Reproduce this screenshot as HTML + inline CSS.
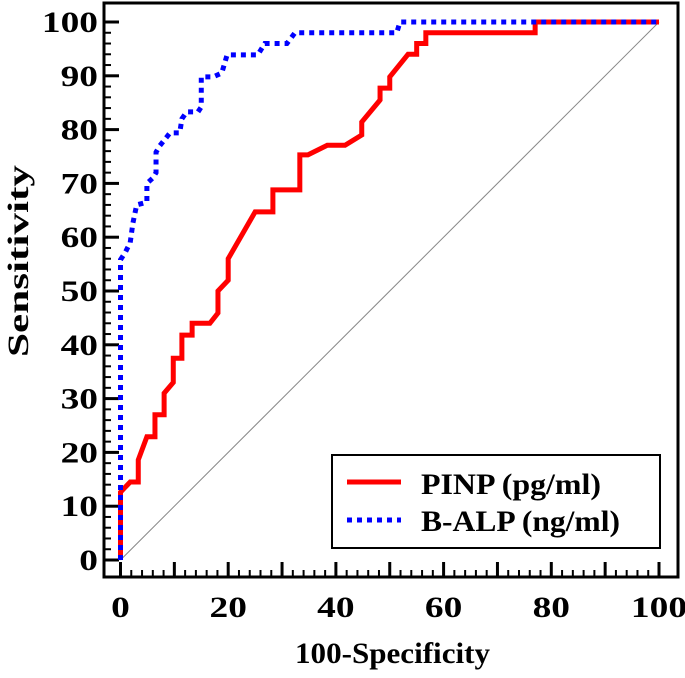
<!DOCTYPE html>
<html><head><meta charset="utf-8"><style>
body{margin:0;background:#fff}
svg text{font-family:"Liberation Serif",serif;font-weight:bold;fill:#000}
</style></head><body>
<svg width="685" height="673" viewBox="0 0 685 673" xmlns="http://www.w3.org/2000/svg">
<g id="ticks"></g>
<g id="labels"></g>
<line id="diag" stroke="#888" stroke-width="1"/>
<polyline id="pinp" fill="none" stroke="#ff0000" stroke-width="5" stroke-linejoin="miter"/>
<polyline id="balp" fill="none" stroke="#0000ff" stroke-width="5" stroke-dasharray="5,5"/>
<rect x="104" y="3" width="574" height="574" fill="none" stroke="#000" stroke-width="3"/>
<g>
<rect x="332" y="455" width="328" height="93" fill="#fff" stroke="#000" stroke-width="2"/>
<line x1="347" y1="482" x2="401" y2="482" stroke="#ff0000" stroke-width="5"/>
<text x="421" y="494" font-size="30" textLength="180" lengthAdjust="spacingAndGlyphs">PINP (pg/ml)</text>
<line x1="347" y1="520" x2="401" y2="520" stroke="#0000ff" stroke-width="5" stroke-dasharray="5,5"/>
<text x="421" y="531" font-size="30" textLength="199" lengthAdjust="spacingAndGlyphs">B-ALP (ng/ml)</text>
</g>
<text x="295" y="663" font-size="30" textLength="195" lengthAdjust="spacingAndGlyphs">100-Specificity</text>
<text transform="translate(28,357) rotate(-90)" font-size="30" textLength="192" lengthAdjust="spacingAndGlyphs">Sensitivity</text>
</svg>
<script>
const xTicks=[0,20,40,60,80,100];
const yTicks=[0,10,20,30,40,50,60,70,80,90,100];
const pinpX=[0,0,1.8,3.3,3.3,4.9,6.4,6.4,8.1,8.1,9.8,9.8,11.4,11.4,13.3,13.3,16.6,18.1,18.1,20,20,25,28.3,28.3,33.3,33.3,34.8,38.4,41.7,44.8,44.8,48.2,48.2,50,50,53.4,55,55,56.7,56.7,77,77,100];
const pinpY=[0,12.6,14.5,14.5,18.6,22.9,22.9,27,27,31,33,37.5,37.5,41.8,41.8,44,44,45.9,50,52,56,64.7,64.7,68.8,68.8,75.3,75.3,77.1,77.1,79,81.4,85.5,87.7,87.7,89.8,94,94,96,96,98,98,100,100];
const balpX=[0,0,0.9,1.8,2.3,3,4.9,4.9,6,6.6,6.6,7.3,9.2,11,11.4,12.3,14.4,15,15,17.2,18.8,19.8,25.5,26.8,30.9,32.4,51.3,51.9,100];
const balpY=[0,55.8,57.2,59,62.6,66,66.5,70,71,72,75.8,77,79.4,79.4,82,83.3,83.3,84.2,89.8,89.8,90.5,93.9,93.9,96,96,98,98,100,100];
const X=v=>120.5+5.385*v, Y=v=>560-5.38*v;
const NS='http://www.w3.org/2000/svg';
function mk(tag,attrs,parent){const e=document.createElementNS(NS,tag);for(const k in attrs)e.setAttribute(k,attrs[k]);parent.appendChild(e);return e;}
const tk=document.getElementById('ticks'), lb=document.getElementById('labels');
for(let v=0;v<=100;v+=2){
  const major=v%10===0, L=major?15:7;
  const a=mk('line',{x1:104,x2:104+L,y1:Y(v),y2:Y(v),stroke:'#000','stroke-width':major?3:2},tk);
  
  
  const b=mk('line',{x1:X(v),x2:X(v),y1:577,y2:577-L,stroke:'#000','stroke-width':major?3:2},tk);
  
  
}
yTicks.forEach(v=>{const n=String(v).length;const t=mk('text',{x:98-18.7*n,y:Y(v)+10,'font-size':30,textLength:18.7*n,lengthAdjust:'spacingAndGlyphs'},lb);t.textContent=v;
  
  });
xTicks.forEach(v=>{const n=String(v).length;const t=mk('text',{x:X(v)-9.35*n,y:617,'font-size':30,textLength:18.7*n,lengthAdjust:'spacingAndGlyphs'},lb);t.textContent=v;
  
  });
const d=document.getElementById('diag');d.setAttribute('x1',X(0));d.setAttribute('y1',Y(0));d.setAttribute('x2',X(100));d.setAttribute('y2',Y(100));
document.getElementById('pinp').setAttribute('points',pinpX.map((x,i)=>X(x)+','+Y(pinpY[i])).join(' '));
document.getElementById('balp').setAttribute('points',balpX.map((x,i)=>X(x)+','+Y(balpY[i])).join(' '));
</script>
</body></html>
